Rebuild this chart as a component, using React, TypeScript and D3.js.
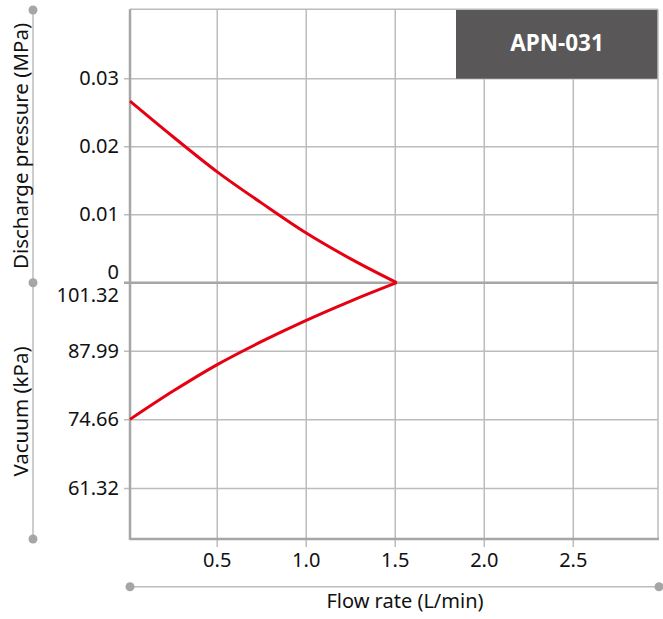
import React from "react";
import * as d3 from "d3";

// ── Data ──────────────────────────────────────────────────
const FLOW = [0.01, 0.25, 0.5, 0.75, 1.0, 1.25, 1.508];
const PRESSURE = [0.0267, 0.0215, 0.0163, 0.0117, 0.0073, 0.0035, 0];
const VACUUM = [74.75, 80.2, 85.4, 89.9, 94.0, 97.75, 101.32];

const X_TICKS = [0.5, 1.0, 1.5, 2.0, 2.5];
const PRESSURE_TICKS = [0.01, 0.02, 0.03];
const VACUUM_TICKS = [87.99, 74.66, 61.32];
const MODEL = "APN-031";

const W = 663;
const H = 619;
const PLOT = { left: 130, right: 658, top: 9.3, mid: 282.7, bottom: 539 };

const FONT = "'Noto Sans', 'Open Sans', sans-serif";
const GRID = "#bcbcbc";
const BORDER = "#a6a6a6";
const RED = "#e60012";

export default function App() {
  const x = d3.scaleLinear().domain([0.01, 2.976]).range([PLOT.left, PLOT.right]);
  const yP = d3.scaleLinear().domain([0, 0.0402]).range([PLOT.mid, PLOT.top]);
  const yV = d3.scaleLinear().domain([101.32, 51.5]).range([PLOT.mid, PLOT.bottom]);

  const pressureLine = d3
    .line<number>()
    .x((_d, i) => x(FLOW[i]))
    .y((d) => yP(d))
    .curve(d3.curveMonotoneX);
  const vacuumLine = d3
    .line<number>()
    .x((_d, i) => x(FLOW[i]))
    .y((d) => yV(d))
    .curve(d3.curveMonotoneX);

  const titleX = (PLOT.left + PLOT.right) / 2 + 11;

  return (
    <div style={{ position: "absolute", left: 0, top: 0 }}>
      <svg width={W} height={H} style={{ fontFamily: FONT, display: "block" }}>
        <rect width={W} height={H} fill="#fff" />

        {/* vertical grid + bottom ticks */}
        {X_TICKS.map((t) => (
          <line
            key={"vx" + t}
            x1={x(t)}
            x2={x(t)}
            y1={PLOT.top}
            y2={PLOT.bottom + 8}
            stroke={GRID}
            strokeWidth={1.5}
          />
        ))}

        {/* horizontal grid: pressure */}
        {PRESSURE_TICKS.map((t) => (
          <line
            key={"hp" + t}
            x1={PLOT.left - 6}
            x2={PLOT.right}
            y1={yP(t)}
            y2={yP(t)}
            stroke={GRID}
            strokeWidth={1.5}
          />
        ))}
        {/* horizontal grid: vacuum */}
        {VACUUM_TICKS.map((t) => (
          <line
            key={"hv" + t}
            x1={PLOT.left - 6}
            x2={PLOT.right}
            y1={yV(t)}
            y2={yV(t)}
            stroke={GRID}
            strokeWidth={1.5}
          />
        ))}

        {/* model box */}
        <rect
          x={456}
          y={PLOT.top}
          width={PLOT.right - 456}
          height={yP(0.03) - PLOT.top}
          fill="#5a5758"
        />
        <text
          x={(456 + PLOT.right) / 2}
          y={51}
          textAnchor="middle"
          fill="#fff"
          fontWeight="bold"
          fontSize={22.5}
        >
          {MODEL}
        </text>

        {/* frame */}
        <line x1={PLOT.left} x2={PLOT.right} y1={PLOT.top} y2={PLOT.top} stroke={GRID} strokeWidth={1.5} />
        <line x1={PLOT.right} x2={PLOT.right} y1={PLOT.top} y2={PLOT.bottom} stroke={GRID} strokeWidth={1.5} />
        <line x1={PLOT.left - 6} x2={PLOT.right} y1={PLOT.mid} y2={PLOT.mid} stroke={BORDER} strokeWidth={2.5} />
        <line x1={PLOT.left} x2={PLOT.left} y1={PLOT.top} y2={PLOT.bottom + 1} stroke={BORDER} strokeWidth={2.5} />
        <line x1={PLOT.left} x2={PLOT.right + 1} y1={PLOT.bottom} y2={PLOT.bottom} stroke={BORDER} strokeWidth={2.5} />

        {/* curves */}
        <path d={pressureLine(PRESSURE) ?? ""} fill="none" stroke={RED} strokeWidth={3} />
        <path d={vacuumLine(VACUUM) ?? ""} fill="none" stroke={RED} strokeWidth={3} />

        {/* y tick labels */}
        {PRESSURE_TICKS.map((t) => (
          <text key={"lp" + t} x={119} y={yP(t)} dy="0.33em" textAnchor="end" fontSize={20} fill="#111">
            {t.toFixed(2)}
          </text>
        ))}
        <text x={119} y={PLOT.mid - 3.5} textAnchor="end" fontSize={20} fill="#111">
          0
        </text>
        <text x={119} y={PLOT.mid + 19.5} textAnchor="end" fontSize={20} fill="#111">
          {(101.32).toFixed(2)}
        </text>
        {VACUUM_TICKS.map((t) => (
          <text key={"lv" + t} x={119} y={yV(t)} dy="0.33em" textAnchor="end" fontSize={20} fill="#111">
            {t.toFixed(2)}
          </text>
        ))}

        {/* x tick labels */}
        {X_TICKS.map((t) => (
          <text key={"lx" + t} x={x(t)} y={566.7} textAnchor="middle" fontSize={20} fill="#111">
            {t.toFixed(1)}
          </text>
        ))}

        {/* left axis rail */}
        <line x1={33} x2={33} y1={10} y2={539} stroke={GRID} strokeWidth={1.5} />
        {[10, PLOT.mid, 539].map((cy) => (
          <circle key={"d" + cy} cx={33} cy={cy} r={4.5} fill="#a6a6a6" />
        ))}
        {/* bottom axis rail */}
        <line x1={PLOT.left} x2={659} y1={586.7} y2={586.7} stroke={GRID} strokeWidth={1.5} />
        {[PLOT.left, 659].map((cx) => (
          <circle key={"b" + cx} cx={cx} cy={586.7} r={4.5} fill="#a6a6a6" />
        ))}

        {/* axis titles */}
        <text
          transform={`translate(28,146) rotate(-90)`}
          textAnchor="middle"
          fontSize={20.5}
          fill="#111"
        >
          Discharge pressure (MPa)
        </text>
        <text
          transform={`translate(28,411.5) rotate(-90)`}
          textAnchor="middle"
          fontSize={20.5}
          fill="#111"
        >
          Vacuum (kPa)
        </text>
        <text x={titleX} y={608.3} textAnchor="middle" fontSize={20} fill="#111">
          Flow rate (L/min)
        </text>
      </svg>
    </div>
  );
}
